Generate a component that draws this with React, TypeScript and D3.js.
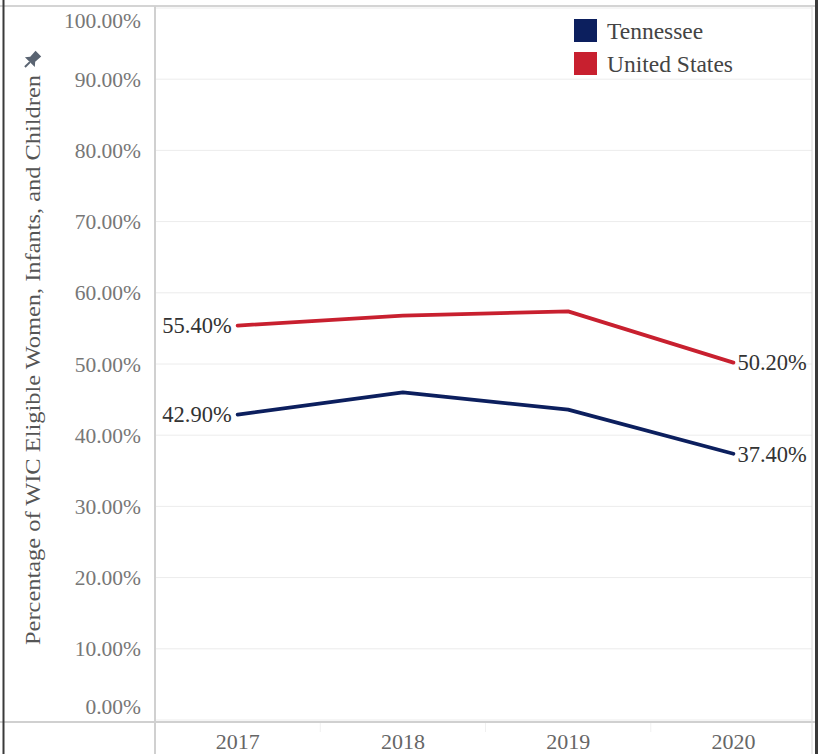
import React from "react";
import * as d3 from "d3";

// WIC coverage, Tennessee vs United States

const years = ["2017", "2018", "2019", "2020"];
const tennessee = [42.9, 46.0, 43.6, 37.4];
const unitedStates = [55.4, 56.8, 57.4, 50.2];
const yTicks = [0, 10, 20, 30, 40, 50, 60, 70, 80, 90, 100];

const navy = "#0c1f5e";
const red = "#c8202f";
const font = "'Liberation Serif', 'DejaVu Serif', serif";

const App = () => {
  const width = 822;
  const height = 754;
  const left = 155;
  const right = 816;
  const top = 8;
  const bottom = 720;

  const xScale = d3.scaleBand().domain(years).range([left, right]);
  const yScale = d3.scaleLinear().domain([0, 100]).range([bottom, top]);

  const line = d3
    .line<number>()
    .x((d, i) => (xScale(years[i]) as number) + xScale.bandwidth() / 2)
    .y(d => yScale(d));

  const series = [
    { name: "Tennessee", values: tennessee, color: navy },
    { name: "United States", values: unitedStates, color: red }
  ];

  const fmt = (v: number) => v.toFixed(2) + "%";

  return (
    <svg
      width={width}
      height={height}
      style={{ position: "absolute", left: 0, top: 0, background: "#fff" }}
    >
      {/* gridlines */}
      {yTicks.map(t => (
        <line
          key={"g" + t}
          x1={left}
          x2={812}
          y1={yScale(t)}
          y2={yScale(t)}
          stroke="#ececec"
          strokeWidth={1}
        />
      ))}

      {/* frame */}
      <line x1={0} x2={816} y1={6} y2={6} stroke="#d4d4d4" strokeWidth={2} />
      <line x1={0} x2={816} y1={722} y2={722} stroke="#d0d0d0" strokeWidth={2} />
      <line x1={left} x2={left} y1={6} y2={height} stroke="#d0d0d0" strokeWidth={2} />
      <line x1={812} x2={812} y1={6} y2={height} stroke="#d8d8d8" strokeWidth={1} />
      <line x1={3.5} x2={3.5} y1={0} y2={height} stroke="#3a3a3a" strokeWidth={2} />
      <line x1={816.5} x2={816.5} y1={0} y2={height} stroke="#3a3a3a" strokeWidth={3} />

      {/* faint band separators under x-axis */}
      {years.slice(1).map(y => (
        <line
          key={"s" + y}
          x1={xScale(y) as number}
          x2={xScale(y) as number}
          y1={723}
          y2={732}
          stroke="#f0f0f0"
        />
      ))}

      {/* y tick labels */}
      {yTicks.map(t => {
        let y = yScale(t);
        if (t === 100) y = 20;
        if (t === 0) y = 706;
        return (
          <text
            key={"t" + t}
            x={141}
            y={y}
            dy="0.35em"
            textAnchor="end"
            fontFamily={font}
            fontSize={21.5}
            fill="#777"
          >
            {fmt(t)}
          </text>
        );
      })}

      {/* x labels */}
      {years.map(y => (
        <text
          key={"x" + y}
          x={(xScale(y) as number) + xScale.bandwidth() / 2}
          y={741}
          dy="0.35em"
          textAnchor="middle"
          fontFamily={font}
          fontSize={22}
          fill="#666"
        >
          {y}
        </text>
      ))}

      {/* axis title */}
      <text
        transform="translate(33, 360) rotate(-90)"
        textAnchor="middle"
        dy="0.35em"
        fontFamily={font}
        fontSize={20}
        fill="#555"
        textLength={570}
        lengthAdjust="spacingAndGlyphs"
      >
        Percentage of WIC Eligible Women, Infants, and Children
      </text>
      {/* pin */}
      <g transform="translate(32, 60) rotate(45)" fill="#5a6472">
        <path d="M-4,-9 L4,-9 L3.5,-1 L7,3 L-7,3 L-3.5,-1 Z" />
        <rect x={-1} y={3} width={2} height={7} />
      </g>

      {/* lines */}
      {series.map(s => (
        <path
          key={s.name}
          d={line(s.values) as string}
          fill="none"
          stroke={s.color}
          strokeWidth={3.8}
          strokeLinejoin="round"
          strokeLinecap="round"
        />
      ))}

      {/* end labels */}
      {series.map(s => {
        const first = s.values[0];
        const last = s.values[s.values.length - 1];
        const x0 = (xScale(years[0]) as number) + xScale.bandwidth() / 2;
        const x1 = (xScale(years[years.length - 1]) as number) + xScale.bandwidth() / 2;
        return (
          <g key={"l" + s.name} fontFamily={font} fontSize={22.5} fill="#333">
            <text x={x0 - 6} y={yScale(first)} dy="0.35em" textAnchor="end">
              {fmt(first)}
            </text>
            <text x={x1 + 4} y={yScale(last)} dy="0.35em" textAnchor="start">
              {fmt(last)}
            </text>
          </g>
        );
      })}

      {/* legend */}
      {series.map((s, i) => (
        <g key={"lg" + s.name} transform={`translate(574, ${19 + i * 33})`}>
          <rect width={23} height={23} fill={s.color} />
          <text x={33} y={12} dy="0.35em" fontFamily={font} fontSize={23.5} fill="#444">
            {s.name}
          </text>
        </g>
      ))}
    </svg>
  );
};

export default App;
